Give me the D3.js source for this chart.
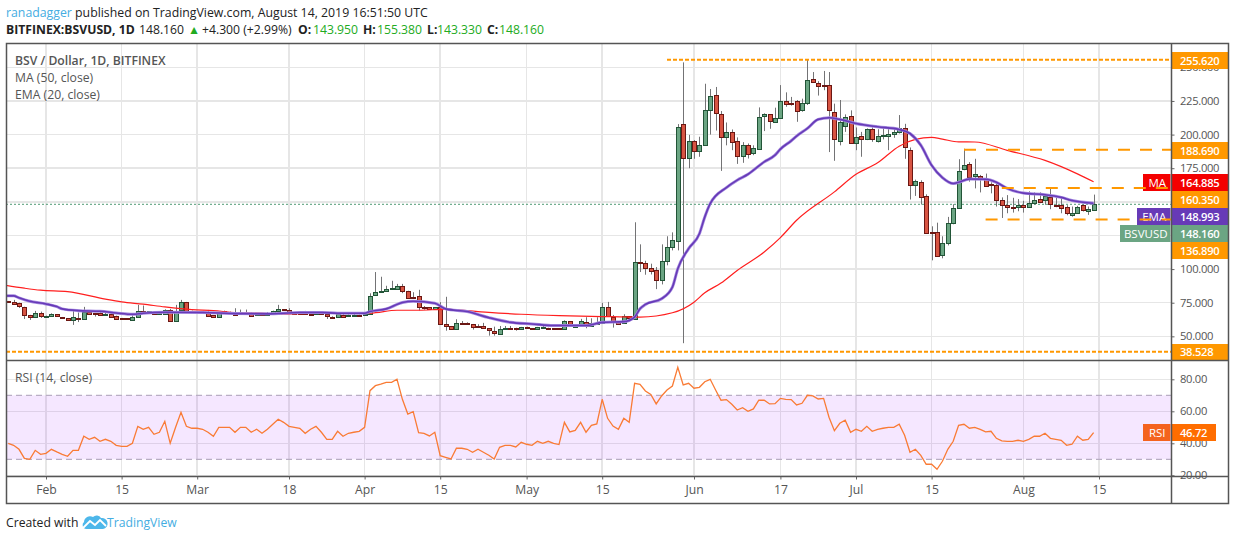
<!DOCTYPE html>
<html>
<head>
<meta charset="utf-8">
<title>BSV / Dollar</title>
<script src="https://cdnjs.cloudflare.com/ajax/libs/d3/7.8.5/d3.min.js"></script>
<style>
  html, body { margin: 0; padding: 0; background: #fff; }
  svg { display: block; font-family: "Open Sans", sans-serif; }
  .axis text { font-size: 11.2px; letter-spacing: -0.3px; fill: #555; font-family: "Open Sans", sans-serif; }
  .axis.time text { font-size: 12.2px; letter-spacing: 0; }
  .axis path { display: none; }
  .axis line { stroke: #666; }
  .grid { stroke: #e6e6e6; stroke-width: 1.5; shape-rendering: crispEdges; }
</style>
</head>
<body>
<svg id="chart" width="1234" height="540"></svg>
<script>
// first candle is 25 Jan 2019, one candle a day up to 14 Aug 2019
const firstDay = Date.UTC(2019, 0, 25)
const dayMs = 86400000

const opens = [
  76.1, 75.6, 74.6, 71.6, 65.7, 63.9, 67.2, 64.9, 64.7, 66.4,
  64.2, 63.4, 61.7, 63.4, 63.2, 67.9, 67.2, 67.2, 65.4, 66.7,
  65.2, 63.4, 63.4, 62.4, 64.0, 68.6, 67.7, 68.2, 66.4, 66.7,
  69.9, 60.9, 69.1, 75.4, 68.9, 68.6, 68.0, 67.7, 65.7, 64.2,
  68.9, 67.9, 67.9, 66.4, 67.6, 67.7, 65.7, 66.7, 65.7, 67.2,
  68.4, 70.1, 69.4, 67.7, 67.7, 67.9, 66.9, 66.7, 67.9, 66.4,
  64.3, 64.2, 66.2, 64.9, 65.7, 65.9, 65.4, 66.4, 80.6, 82.6,
  83.6, 85.1, 85.3, 87.3, 83.6, 79.4, 79.9, 72.0, 71.6, 70.1,
  71.6, 59.0, 57.5, 55.2, 59.7, 59.7, 59.0, 57.5, 57.5, 56.0,
  54.0, 51.5, 55.7, 56.4, 56.2, 55.2, 56.7, 56.0, 55.2, 56.3,
  56.0, 56.0, 56.0, 55.2, 61.2, 57.6, 57.5, 60.4, 57.5, 59.5,
  59.7, 71.6, 64.7, 60.9, 59.7, 64.9, 63.0, 105.5, 104.7, 101,
  99, 91.8, 106, 116.4, 120.9, 207.5, 182, 194.9, 187.2, 191.7,
  218, 229.1, 215, 197.6, 201.6, 194.9, 183.5, 192.6, 185.7, 188.9,
  213.5, 215, 208.8, 212, 224.7, 223.7, 224.7, 217.7, 223.2, 241,
  238, 236.6, 236.6, 216.5, 194.6, 205.8, 213.5, 194.1, 198.6, 196.1,
  203.8, 194.6, 199.2, 199.1, 199.9, 201.3, 204.6, 188.9, 162.6, 165,
  154.6, 127.7, 127.6, 110.7, 119.4, 134.5, 145.7, 174, 178.3, 168.8,
  169.5, 167.3, 162.9, 162.8, 151, 147.5, 146.5, 146.3, 148, 146.3,
  148.5, 152, 151, 153.3, 147.6, 148, 145.8, 140.3, 142, 147.3,
  142.8, 143.95
]
const highs = [
  76.3, 77.1, 75.0, 72.0, 66.0, 68.9, 68.4, 65.4, 67.1, 66.6,
  64.4, 63.6, 70.1, 67.7, 71.9, 68.4, 67.4, 68.4, 68.4, 67.7,
  65.4, 63.7, 63.6, 65.7, 73.4, 72.9, 68.8, 68.4, 67.4, 70.1,
  70.4, 73.4, 77.1, 75.6, 69.1, 68.8, 68.9, 69.6, 65.9, 68.1,
  69.1, 68.4, 70.9, 69.9, 69.9, 67.9, 67.0, 67.0, 68.1, 69.1,
  73.4, 70.3, 70.9, 68.1, 68.4, 68.9, 67.1, 67.9, 68.3, 66.6,
  64.9, 66.7, 66.6, 66.4, 67.9, 66.2, 67.0, 82.0, 97.8, 94.3,
  87.6, 91.3, 89.0, 89.0, 83.9, 82.8, 84.6, 72.5, 71.8, 71.8,
  75.4, 79.4, 57.7, 62.7, 61.4, 60.4, 59.2, 59.0, 60.0, 56.2,
  57.2, 57.7, 57.7, 57.7, 56.4, 57.0, 57.2, 56.2, 57.0, 57.7,
  56.4, 56.2, 56.2, 61.9, 61.4, 58.2, 63.0, 64.2, 63.4, 64.2,
  74.9, 75.6, 65.9, 61.1, 66.4, 65.1, 134.8, 118.4, 106.2, 104,
  101.5, 118.4, 124.4, 127.3, 207.8, 253.7, 199.8, 195.9, 198.4, 237.8,
  233.9, 235.4, 217.5, 209, 203.8, 197.9, 194.4, 193.4, 192, 220.2,
  215.8, 215.2, 220, 236.8, 231.4, 228, 225.7, 226.7, 255.5, 246.5,
  239.7, 247.3, 246.5, 223, 225.7, 215, 218, 205.3, 202, 204.6,
  205.3, 204, 205.3, 204, 204.6, 214.5, 208, 190.4, 166.5, 166,
  155.6, 131.8, 134.5, 124.4, 138.8, 148.2, 181.7, 189.5, 179.5, 182,
  170, 171, 164.5, 163.3, 153.3, 155, 153, 152, 150.8, 157.8,
  157, 157, 155, 160.8, 153.3, 152.8, 147.5, 146.5, 147, 148,
  146.5, 155.38
]
const lows = [
  74.8, 73.9, 71.1, 62.9, 62.2, 63.6, 63.7, 64.6, 64.5, 64.5,
  63.0, 61.5, 58.5, 60.6, 63.0, 66.0, 64.7, 65.2, 65.2, 64.2,
  63.0, 63.0, 62.5, 62.2, 63.8, 67.5, 67.5, 66.2, 66.2, 66.5,
  60.7, 60.7, 68.9, 68.2, 67.7, 68.0, 67.5, 65.5, 64.0, 64.0,
  67.7, 67.3, 65.5, 66.2, 67.2, 65.5, 65.5, 65.5, 65.5, 67.0,
  68.2, 68.9, 67.7, 67.1, 67.3, 66.2, 66.2, 66.5, 66.2, 62.9,
  63.7, 64.0, 64.7, 64.7, 65.5, 65.5, 65.2, 66.2, 80.4, 82.4,
  83.4, 84.9, 85.1, 82.1, 77.9, 78.8, 69.2, 69.8, 69.9, 69.9,
  58.8, 54.2, 55.0, 55.0, 59.0, 59.0, 55.0, 56.5, 55.8, 50.5,
  50.5, 51.3, 55.5, 55.9, 54.2, 55.0, 56.0, 55.0, 55.0, 56.0,
  55.6, 55.1, 55.1, 55.0, 57.3, 57.2, 57.3, 56.0, 57.3, 59.2,
  59.5, 64.5, 56.5, 59.5, 59.5, 63.0, 62.8, 97.8, 95.8, 96,
  85.1, 88.6, 102.8, 113.9, 113.9, 44.9, 175, 182, 183.5, 191.5,
  200, 203, 173, 192, 188.4, 178.2, 179, 182.2, 184.7, 188.7,
  202.6, 204.3, 208.6, 211.8, 220.7, 221.5, 209.5, 217, 222, 238.5,
  229, 233, 187, 180.5, 192, 202, 193, 188.4, 183.5, 195.9,
  194.6, 194.1, 196.4, 188.4, 197.6, 200.8, 182, 151.7, 154.4, 148,
  126.4, 106.5, 109.5, 108, 117.6, 133.3, 145.5, 173.5, 165, 160,
  157, 161.5, 156.3, 146.5, 138, 141.5, 142, 143, 142, 145.8,
  148, 149, 147.8, 144.5, 146, 141.5, 140, 139, 141.5, 142.8,
  140.3, 143.33
]
const closes = [
  75.0, 74.4, 72.1, 65.7, 63.9, 67.2, 64.7, 65.0, 66.4, 64.7,
  63.2, 61.7, 64.2, 62.9, 68.2, 66.2, 67.0, 65.4, 66.4, 64.7,
  63.2, 63.2, 62.7, 64.4, 68.6, 67.7, 68.6, 66.4, 67.2, 69.9,
  61.7, 68.6, 75.4, 68.4, 67.9, 68.2, 67.8, 65.7, 64.2, 67.9,
  67.9, 67.5, 65.7, 67.9, 67.4, 65.7, 66.7, 65.7, 67.2, 68.6,
  70.1, 69.1, 67.9, 67.5, 67.5, 66.4, 66.4, 67.5, 66.4, 64.7,
  64.1, 66.4, 64.9, 65.9, 65.9, 65.7, 66.4, 79.9, 82.8, 83.6,
  85.1, 85.8, 87.3, 83.6, 78.1, 79.0, 71.4, 71.4, 70.1, 71.6,
  59.0, 57.5, 55.2, 59.7, 59.5, 59.2, 56.5, 56.8, 56.0, 54.2,
  52.2, 55.2, 56.0, 56.2, 55.5, 56.7, 56.2, 55.3, 56.7, 56.6,
  55.8, 55.3, 55.3, 61.2, 57.5, 57.9, 61.2, 57.2, 59.7, 59.7,
  71.6, 64.7, 60.9, 59.7, 64.9, 63.2, 105.5, 105.3, 100.8, 98.5,
  91.6, 106.2, 116.7, 121.9, 206, 182, 194.9, 187.2, 191.9, 218,
  228.4, 215.5, 197.6, 201.6, 193.9, 183.7, 191.9, 185.9, 189.7, 212.8,
  215, 209.8, 212, 224.7, 222.2, 223.5, 217, 223.2, 240.3, 238.8,
  235.6, 235.8, 217.7, 196.4, 209, 212.8, 193.4, 198.4, 196.1, 203.8,
  196.4, 198.6, 199.6, 200.8, 201.6, 204.6, 190.4, 162.8, 165.8, 153.9,
  126.8, 127.3, 109.7, 119.6, 134.5, 145.7, 173, 177.3, 168.8, 170.5,
  167.3, 162.3, 162.6, 151.5, 147.3, 146.3, 145.8, 148, 146.3, 149,
  151, 150, 154, 147.8, 147.2, 145.8, 141, 142, 146.5, 143.3,
  144.5, 148.16
]

// moving averages at the candle numbers listed
const emaDays = [-1, 1, 2, 4, 7, 9, 10, 13, 17, 20, 23, 25, 29, 36, 42, 48, 54, 58, 61, 66, 67, 70, 73, 75, 79, 81, 85, 89, 93, 97, 101, 103, 107, 110, 114, 116, 117, 118, 121, 123, 124, 126, 128, 129, 130, 133, 135, 137, 140, 142, 143, 145, 146, 148, 150, 152, 154, 157, 161, 165, 167, 169, 171, 173, 175, 176, 178, 181, 183, 185, 188, 192, 195, 197, 201]
const emaValues = [80.1, 80.1, 78.6, 76.1, 74.1, 72.1, 70.4, 69.1, 68.6, 67.4, 66.4, 67.2, 67.9, 67.7, 66.9, 66.7, 67.7, 67.7, 67.2, 67.2, 68.4, 70.4, 75.1, 76.1, 74.6, 70.4, 68.4, 63.9, 60.4, 59.2, 58, 58, 58, 60.4, 60.9, 64.3, 70.5, 73.7, 78, 86.6, 100.3, 115.2, 126.3, 138.8, 148.7, 160.6, 166.1, 170.5, 179.7, 184.7, 189.2, 195.4, 198.9, 204.6, 211.3, 212.5, 211.3, 208.3, 205.8, 203.8, 200.8, 192.1, 177.2, 168, 163.6, 164.5, 167, 166.8, 164.5, 160, 156.5, 155.3, 153.3, 151, 148.993]
const maDays = [-1, 3, 6, 11, 18, 21, 25, 29, 34, 38, 42, 47, 50, 58, 61, 67, 72, 76, 81, 87, 95, 102, 110, 117, 123, 127, 129, 132, 135, 140, 143, 146, 153, 157, 161, 165, 168, 171, 173, 176, 179, 185, 192, 198, 201]
const maValues = [88.3, 85.8, 84.3, 83.3, 77.6, 75.6, 73.9, 71.9, 69.9, 69.1, 67.7, 67.2, 66.4, 67.2, 67.2, 67.2, 69.4, 69.4, 70.1, 68.4, 66.4, 65.4, 64.7, 64.3, 67.5, 75.4, 82.4, 89.6, 99, 112.7, 123.4, 136.3, 157.4, 170.5, 179, 191.4, 196.4, 197.9, 196.6, 194.6, 194.5, 188.3, 180.8, 170.8, 164.885]

const rsiValues = [
  40, 38.75, 36.25, 30.6, 30, 35.6, 33.1, 33.75, 36.25, 34.6,
  33.1, 31.9, 35.6, 35.6, 44.4, 42.5, 43.75, 41.25, 42.5, 41.25,
  38.75, 38.1, 38.1, 40, 50.6, 48.75, 50, 45.6, 46.9, 53.75,
  40, 50, 59.4, 50.6, 49.4, 49.4, 48.75, 46.9, 44.4, 50,
  50, 50, 46.9, 50, 50, 46.9, 48.75, 46.25, 48.75, 51.9,
  55, 53.1, 50.6, 50, 49.4, 46.25, 48.75, 50.6, 46.9, 42.5,
  42.5, 47.5, 44.4, 46.25, 46.9, 47.5, 50, 72.9, 76, 77,
  78.1, 78.1, 80, 67.5, 58.3, 59.8, 46.7, 46.25, 44.6, 46.9,
  32.3, 31.25, 30.2, 36.9, 36.9, 36.25, 34.4, 36.25, 34.4, 32.5,
  30.2, 37.5, 38.75, 38.75, 37.7, 40.6, 39.4, 38.75, 41.25, 40,
  41.25, 40, 39.2, 53.1, 47.1, 48.1, 53.1, 46.9, 51.25, 52.1,
  67.5, 55.6, 50.8, 48.75, 55.6, 53.1, 77.5, 76.9, 72.7, 70.6,
  64.6, 69.6, 73.3, 75.8, 87.5, 76.5, 77.5, 74.4, 75, 78.5,
  80, 73.3, 66.9, 67.3, 64.4, 60.8, 62.3, 60, 61.5, 66.9,
  66.9, 64.6, 64.8, 68.1, 67.5, 67.3, 64, 65, 70, 69.6,
  67.7, 68.1, 56.25, 47.9, 52.5, 54.4, 46.9, 48.75, 47.5, 50.6,
  47.5, 48.75, 49.4, 50, 50, 51.9, 45, 34.4, 36.25, 32.5,
  26.9, 26.9, 23.75, 28.75, 36.25, 41.25, 51.25, 51.9, 49.4, 50,
  48.75, 47.1, 47.5, 43.1, 41.5, 41.25, 41.25, 41.9, 41.25, 42.5,
  44.4, 44.4, 46.25, 43.1, 42.5, 41.9, 38.75, 39.4, 44.4, 41.9,
  42.5, 46.72
]

const priceTicks = [250, 225, 200, 175, 150, 125, 100, 75, 50]
const rsiTicks = [80, 60, 40, 20]
const timeTicks = [[2019, 1, 1], [2019, 1, 15], [2019, 2, 1], [2019, 2, 18], [2019, 3, 1], [2019, 3, 15], [2019, 4, 1], [2019, 4, 15], [2019, 5, 1], [2019, 5, 17], [2019, 6, 1], [2019, 6, 15], [2019, 7, 1], [2019, 7, 15]]
const timeLabels = ['Feb', '15', 'Mar', '18', 'Apr', '15', 'May', '15', 'Jun', '17', 'Jul', '15', 'Aug', '15']
// support / resistance lines drawn on the chart: level, first candle, fine dashes?
const levels = [255.62, 188.69, 160.35, 136.89, 38.528]
const levelStarts = [122, 177, 184, 181, -8]
const levelFine = [true, false, false, false, true]

const chartL = 6, chartR = 1228, axisX = 1171.5, chartT = 43.5, priceB = 360.5, rsiB = 476.5, chartB = 503.5
const orange = '#ff9800'

const x = d3.scaleUtc()
  .domain([new Date(Date.UTC(2019, 1, 1)), new Date(Date.UTC(2019, 7, 15))])
  .range([46, 46 + 5.4 * 195])
const dayX = i => x(new Date(firstDay + i * dayMs))
const y = d3.scaleLinear().domain([250, 50]).range([67.33, 336.33])
const rsiY = d3.scaleLinear().domain([70, 30]).range([395.3, 459.3])

const svg = d3.select('#chart')
const defs = svg.append('defs')
defs.append('clipPath').attr('id', 'priceClip').append('rect')
  .attr('x', chartL).attr('y', chartT).attr('width', axisX - chartL).attr('height', priceB - chartT)
defs.append('clipPath').attr('id', 'rsiClip').append('rect')
  .attr('x', chartL).attr('y', priceB).attr('width', axisX - chartL).attr('height', rsiB - priceB)

// header
const head1 = svg.append('text').attr('x', 6).attr('y', 17).attr('font-size', 12.3).attr('fill', '#222')
head1.append('tspan').attr('fill', '#45ade2').text('ranadagger')
head1.append('tspan').text(' published on TradingView.com, August 14, 2019 16:51:50 UTC')

const head2 = svg.append('g').attr('font-size', 12.2).attr('fill', '#222')
const headBit = (px, str, fill, bold) => head2.append('text').attr('x', px).attr('y', 34)
  .attr('fill', fill || '#222').attr('font-weight', bold ? 700 : 400).text(str)
headBit(6, 'BITFINEX:BSVUSD, 1D', null, true)
headBit(139, '148.160')
headBit(188, '▲', '#22ab22')
headBit(202, '+4.300 (+2.99%)')
const ohlcLabels = ['O:', 'H:', 'L:', 'C:']
const ohlcValues = ['143.950', '155.380', '143.330', '148.160']
const ohlcLabelX = [298, 363, 427, 487]
const ohlcValueX = [313, 377, 437, 499]
ohlcLabels.forEach((label, i) => {
  headBit(ohlcLabelX[i], label, null, true)
  headBit(ohlcValueX[i], ohlcValues[i], '#22ab22')
})

// grids
const gridG = svg.append('g')
const tickDates = timeTicks.map(d => new Date(Date.UTC(d[0], d[1], d[2])))
gridG.selectAll('.v').data(tickDates).join('line').attr('class', 'grid v')
  .attr('x1', d => x(d)).attr('x2', d => x(d)).attr('y1', chartT).attr('y2', rsiB)
gridG.selectAll('.h').data(priceTicks).join('line').attr('class', 'grid h')
  .attr('x1', chartL).attr('x2', axisX).attr('y1', d => y(d)).attr('y2', d => y(d))
gridG.selectAll('.r').data(rsiTicks).join('line').attr('class', 'grid r')
  .attr('x1', chartL).attr('x2', axisX).attr('y1', d => rsiY(d)).attr('y2', d => rsiY(d))

// RSI band goes over the grid
svg.append('rect').attr('x', chartL).attr('width', axisX - chartL)
  .attr('y', rsiY(70)).attr('height', rsiY(30) - rsiY(70))
  .attr('fill', '#9915ff').attr('fill-opacity', 0.1)
svg.selectAll('.band').data([70, 30]).join('line').attr('class', 'band')
  .attr('x1', chartL).attr('x2', axisX).attr('y1', d => rsiY(d)).attr('y2', d => rsiY(d))
  .attr('stroke', '#b9aec4').attr('stroke-width', 1.2).attr('stroke-dasharray', '6 4')

// last price line
svg.append('line').attr('x1', chartL).attr('x2', axisX)
  .attr('y1', y(closes[closes.length - 1])).attr('y2', y(closes[closes.length - 1]))
  .attr('stroke', '#4f9a75').attr('stroke-width', 1).attr('stroke-dasharray', '2 2')

// candles
const candleData = opens.map((o, i) => ({ i, o, h: highs[i], l: lows[i], c: closes[i] }))
const priceG = svg.append('g').attr('clip-path', 'url(#priceClip)')
const candles = priceG.selectAll('g.candle').data(candleData).join('g').attr('class', 'candle')
candles.append('line')
  .attr('x1', d => Math.round(dayX(d.i)) + 0.5).attr('x2', d => Math.round(dayX(d.i)) + 0.5)
  .attr('y1', d => y(d.h)).attr('y2', d => y(d.l))
  .attr('stroke', '#737375').attr('stroke-width', 1)
candles.append('rect')
  .attr('x', d => Math.round(dayX(d.i)) - 1.5).attr('width', 4)
  .attr('y', d => Math.round(y(Math.max(d.o, d.c))) + 0.5)
  .attr('height', d => Math.max(Math.round(Math.abs(y(d.o) - y(d.c))), 1))
  .attr('fill', d => d.c >= d.o ? '#6ba583' : '#d75442')
  .attr('stroke', d => d.c >= d.o ? '#225437' : '#6b1713')
  .attr('stroke-width', 1)

// moving averages
const avgLine = d3.line().x(d => dayX(d[0])).y(d => y(d[1])).curve(d3.curveMonotoneX)
priceG.append('path').datum(d3.zip(maDays, maValues)).attr('d', avgLine)
  .attr('fill', 'none').attr('stroke', '#ff1f1f').attr('stroke-width', 1.2)
priceG.append('path').datum(d3.zip(emaDays, emaValues)).attr('d', avgLine)
  .attr('fill', 'none').attr('stroke', '#a58be0').attr('stroke-width', 3)
priceG.append('path').datum(d3.zip(emaDays, emaValues)).attr('d', avgLine)
  .attr('fill', 'none').attr('stroke', '#673ab7').attr('stroke-width', 1.6)

// RSI line
const rsiLine = d3.line().x((d, i) => dayX(i)).y(d => rsiY(d))
svg.append('g').attr('clip-path', 'url(#rsiClip)').append('path').datum(rsiValues).attr('d', rsiLine)
  .attr('fill', 'none').attr('stroke', '#f97b35').attr('stroke-width', 1.3)

// axes
svg.append('g').attr('class', 'axis time').attr('transform', `translate(0,${rsiB})`)
  .call(d3.axisBottom(x).tickValues(tickDates).tickSize(3).tickPadding(6).tickFormat((d, i) => timeLabels[i]))
svg.append('g').attr('class', 'axis').attr('transform', `translate(${axisX},0)`)
  .call(d3.axisRight(y).tickValues(priceTicks).tickSize(3).tickPadding(5.5).tickFormat(d3.format('.3f')))
svg.append('g').attr('class', 'axis').attr('transform', `translate(${axisX},0)`)
  .call(d3.axisRight(rsiY).tickValues(rsiTicks).tickSize(3).tickPadding(5.5).tickFormat(d3.format('.2f')))

// price tags down the right axis, stacked the way the site stacks them
const tagG = svg.append('g')
const tag = (label, value, fill, labelFill, tagTop, tagH, valueR, labelL) => {
  tagG.append('rect').attr('x', axisX).attr('y', tagTop).attr('width', valueR - axisX).attr('height', tagH).attr('fill', fill)
  tagG.append('text').attr('x', axisX + 8.5).attr('y', tagTop + tagH / 2 + 4)
    .attr('font-size', 11.2).attr('letter-spacing', -0.3).attr('font-weight', 600).attr('fill', '#fff').text(value)
  if (label) {
    tagG.append('rect').attr('x', labelL).attr('y', tagTop).attr('width', axisX - labelL - 1).attr('height', tagH).attr('fill', labelFill)
    tagG.append('text').attr('x', (labelL + axisX) / 2).attr('y', tagTop + tagH / 2 + 4).attr('text-anchor', 'middle')
      .attr('font-size', 11.5).attr('fill', '#fff').text(label)
  }
}
tag(null, '255.620', orange, null, 52, 17, chartR)
tag(null, '188.690', orange, null, 142, 17, chartR)
tag('MA', '164.885', '#f40000', '#f40000', 174, 17, chartR, 1143)
tag(null, '160.350', orange, null, 191, 17, chartR)
tag('EMA', '148.993', '#673ab7', '#673ab7', 208, 17, chartR, 1137)
tag('BSVUSD', '148.160', '#6ba583', '#6ba583', 225, 17, chartR, 1120)
tag(null, '136.890', orange, null, 242, 17, chartR)
tag(null, '38.528', orange, null, 344, 16.5, chartR)
tag('RSI', '46.72', '#ff6d00', '#f4631e', 424, 17, 1216, 1143)

// support / resistance lines, over the left hand tags
levels.forEach((level, n) => {
  svg.append('line')
    .attr('x1', Math.max(dayX(levelStarts[n]), chartL)).attr('x2', axisX)
    .attr('y1', y(level)).attr('y2', y(level))
    .attr('stroke', orange).attr('stroke-width', 2)
    .attr('stroke-dasharray', levelFine[n] ? '4 2' : '12 10')
})

// legends
const legend = svg.append('g').attr('font-size', 12.2).attr('fill', '#555')
legend.append('text').attr('x', 15).attr('y', 65).attr('font-weight', 600).text('BSV / Dollar, 1D, BITFINEX')
legend.append('text').attr('x', 15).attr('y', 82).text('MA (50, close)')
legend.append('text').attr('x', 15).attr('y', 99).text('EMA (20, close)')
legend.append('text').attr('x', 15).attr('y', 382).text('RSI (14, close)')

// frame
svg.append('rect').attr('x', chartL + 0.5).attr('y', chartT).attr('width', chartR - chartL).attr('height', chartB - chartT)
  .attr('fill', 'none').attr('stroke', '#555').attr('stroke-width', 1.5)
svg.append('line').attr('x1', chartL).attr('x2', chartR).attr('y1', priceB).attr('y2', priceB).attr('stroke', '#555').attr('stroke-width', 1.5)
svg.append('line').attr('x1', chartL).attr('x2', chartR).attr('y1', rsiB).attr('y2', rsiB).attr('stroke', '#555').attr('stroke-width', 1.5)
svg.append('line').attr('x1', axisX).attr('x2', axisX).attr('y1', chartT).attr('y2', chartB).attr('stroke', '#555').attr('stroke-width', 1.5)

// footer with the little cloud logo
svg.append('text').attr('x', 6).attr('y', 527).attr('font-size', 12.2).attr('fill', '#222').text('Created with')
svg.append('path').attr('fill', '#4db7ea')
  .attr('d', 'M86 529 a4 4 0 0 1 -2 -7 a6 6 0 0 1 9 -5 a5 5 0 0 1 8 1 a5 5 0 0 1 2 11 Z')
svg.append('path').attr('fill', 'none').attr('stroke', '#fff').attr('stroke-width', 1.8)
  .attr('d', 'M83 528 L90 521 L95 525 L100 520 L106 526')
svg.append('text').attr('x', 107).attr('y', 527).attr('font-size', 12.2).attr('fill', '#45ade2').text('TradingView')
</script>
</body>
</html>
